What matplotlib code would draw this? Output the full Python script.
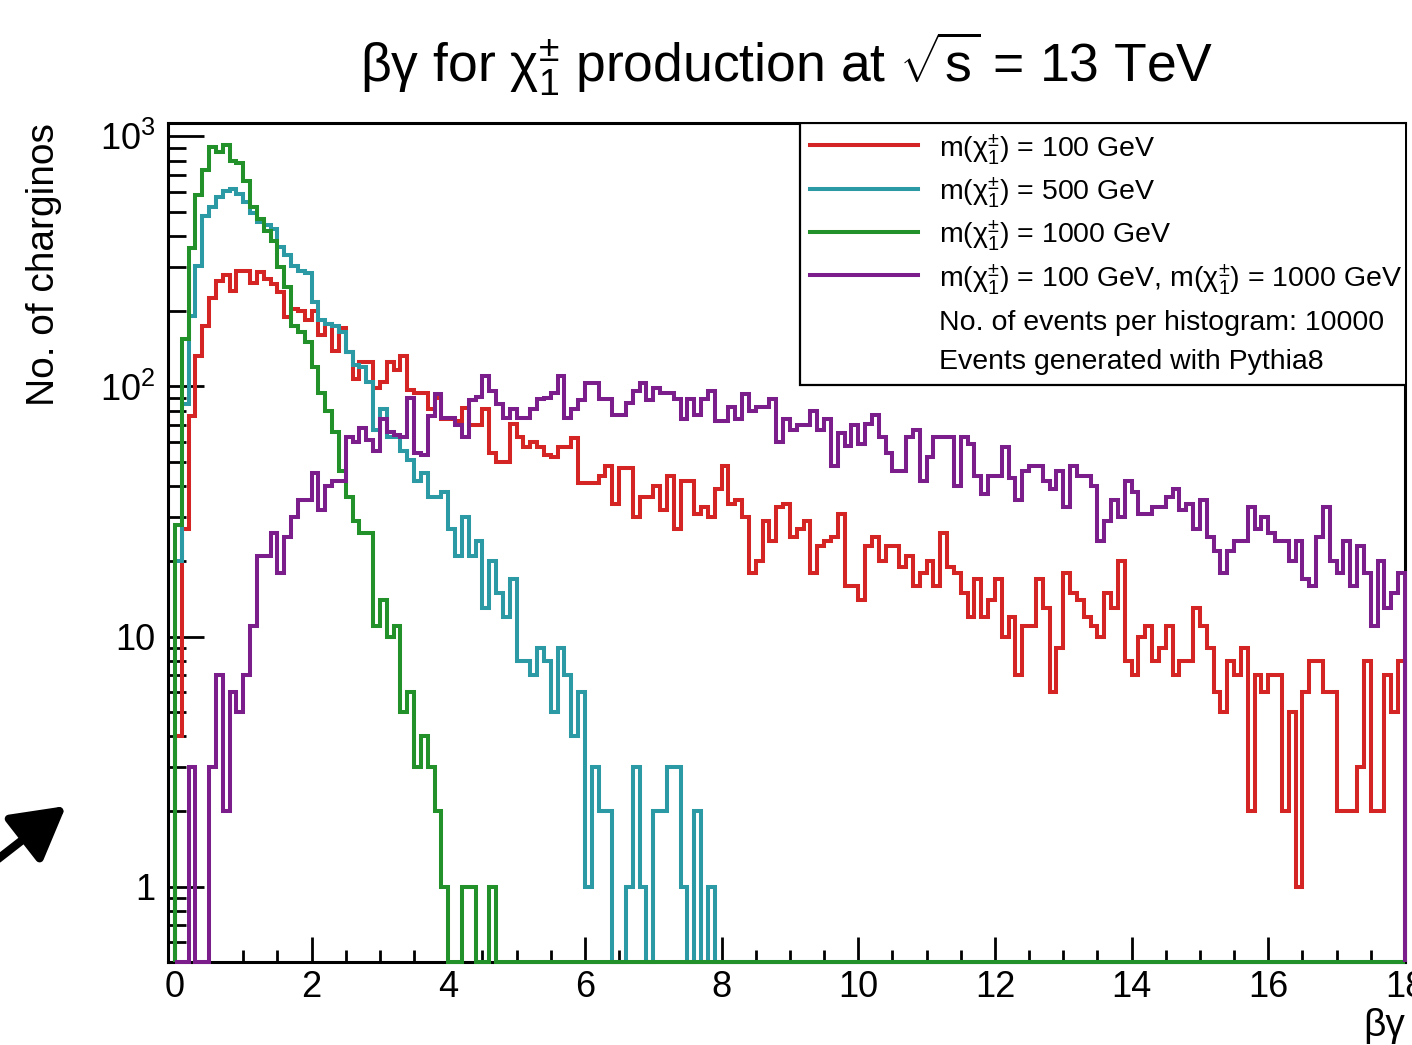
import numpy as np
import matplotlib.pyplot as plt
from matplotlib.lines import Line2D
from matplotlib.ticker import FixedLocator, FixedFormatter, MultipleLocator, LogLocator, NullFormatter

plt.rcParams['font.family'] = ['Liberation Sans', 'DejaVu Sans']
plt.rcParams['mathtext.fontset'] = 'custom'
plt.rcParams['mathtext.rm'] = 'Liberation Sans'
plt.rcParams['mathtext.it'] = 'Liberation Sans:italic'
plt.rcParams['mathtext.bf'] = 'Liberation Sans:bold'

# betagamma histograms, 0.1 wide bins from 0 to 18 (counts per bin)
m100 = [4, 27, 76, 132, 175, 226, 265, 280, 240, 290,
        290, 260, 287, 270, 257, 238, 190, 204, 200, 185,
        200, 160, 177, 138, 171, 137, 107, 125, 125, 99,
        104, 125, 116, 132, 97, 94, 94, 81, 90, 74,
        74, 73, 82, 70, 70, 81, 54, 50, 50, 71,
        63, 57, 60, 57, 53, 52, 57, 57, 62, 41,
        41, 41, 44, 48, 34, 47, 47, 30, 36, 36,
        40, 32, 44, 27, 42, 42, 31, 33, 30, 39,
        48, 34, 35, 30, 18, 20, 29, 24, 33, 34,
        25, 27, 29, 18, 23, 24, 25, 31, 16, 16,
        14, 23, 25, 20, 23, 23, 19, 21, 16, 18,
        20, 16, 26, 19, 18, 15, 12, 17, 12, 14,
        17, 10, 12, 7, 11, 11, 17, 13, 6, 9,
        18, 15, 14, 12, 11, 10, 15, 13, 20, 8,
        7, 10, 11, 8, 9, 11, 7, 8, 8, 13,
        11, 9, 6, 5, 8, 7, 9, 2, 7, 6,
        7, 7, 2, 5, 1, 6, 8, 8, 6, 6,
        2, 2, 2, 3, 8, 2, 2, 7, 5, 8]

m500 = [20, 85, 192, 302, 480, 520, 570, 605, 615, 590,
        545, 495, 455, 440, 427, 360, 334, 302, 290, 285,
        218, 185, 177, 175, 165, 137, 122, 120, 104, 67,
        81, 63, 63, 55, 51, 42, 45, 36, 36, 38,
        27, 21, 30, 21, 24, 13, 20, 15, 12, 17,
        8, 8, 7, 9, 8, 5, 9, 7, 4, 6,
        1, 3, 2, 2, 0, 0, 1, 3, 1, 0,
        2, 2, 3, 3, 1, 0, 2, 0, 1, 0] + [0] * 100

m1000 = [28, 155, 356, 580, 730, 905, 862, 920, 800, 780,
         660, 520, 465, 420, 380, 300, 250, 175, 165, 150,
         120, 94, 80, 66, 46, 36, 29, 26, 26, 11,
         14, 10, 11, 5, 6, 3, 4, 3, 2, 1,
         0, 0, 1, 1, 0, 0, 1, 0, 0, 0] + [0] * 130

m_mix = [0, 0, 3, 0, 0, 3, 7, 2, 6, 5,
         7, 11, 21, 21, 26, 18, 25, 30, 35, 35,
         45, 32, 40, 42, 42, 63, 60, 68, 61, 55,
         74, 66, 64, 63, 90, 54, 53, 76, 93, 75,
         75, 70, 63, 88, 91, 110, 96, 85, 75, 81,
         75, 75, 81, 89, 90, 94, 110, 75, 81, 88,
         103, 103, 89, 89, 77, 77, 86, 96, 103, 88,
         99, 94, 94, 89, 74, 89, 77, 89, 96, 73,
         73, 83, 74, 93, 80, 83, 83, 89, 60, 74,
         67, 70, 70, 80, 67, 74, 48, 65, 58, 70,
         59, 71, 77, 63, 54, 46, 46, 63, 67, 42,
         52, 63, 63, 63, 40, 63, 59, 44, 37, 44,
         44, 57, 43, 35, 46, 48, 48, 42, 39, 46,
         33, 48, 44, 44, 40, 24, 29, 35, 30, 42,
         38, 31, 31, 33, 33, 36, 39, 32, 34, 27,
         35, 25, 22, 18, 22, 24, 24, 33, 27, 30,
         26, 24, 24, 20, 24, 17, 16, 25, 33, 20,
         18, 24, 16, 23, 18, 11, 20, 13, 15, 18]

labels = [r'm($\mathrm{χ}^{\pm}_{1}$) = 100 GeV',
          r'm($\mathrm{χ}^{\pm}_{1}$) = 500 GeV',
          r'm($\mathrm{χ}^{\pm}_{1}$) = 1000 GeV',
          r'm($\mathrm{χ}^{\pm}_{1}$) = 100 GeV, m($\mathrm{χ}^{\pm}_{1}$) = 1000 GeV']
colors = ['#d42424', '#2b9aa4', '#22912a', '#7c1d8c']
notes = ['No. of events per histogram: 10000', 'Events generated with Pythia8']

edges = np.round(np.linspace(0, 18, 181), 2)
ymin, ymax = 0.5, 1130

fig = plt.figure(figsize=(14.12, 10.45), dpi=100)
ax = fig.add_axes([168 / 1412, 83 / 1045, 1237 / 1412, 839 / 1045])

for vals, c, lab in zip([m100, m500, m1000, m_mix], colors, labels):
    v = np.array(vals, dtype=float)
    v = np.where(v > 0, v, ymin)  # empty bins drawn on the axis floor like ROOT
    ax.stairs(v, edges, baseline=ymin, color=c, lw=2.9, label=lab,
              zorder=3, clip_on=False)

ax.set_yscale('log')
ax.set_xlim(-0.1, 18)
ax.set_ylim(ymin, ymax)

ax.xaxis.set_major_locator(MultipleLocator(2))
ax.xaxis.set_minor_locator(MultipleLocator(0.5))
ax.yaxis.set_major_locator(FixedLocator([1, 10, 100, 1000]))
ax.yaxis.set_major_formatter(FixedFormatter(['1', '10', r'$10^{2}$', r'$10^{3}$']))
ax.yaxis.set_minor_locator(LogLocator(base=10, subs=np.arange(2, 10)))
ax.yaxis.set_minor_formatter(NullFormatter())

ax.tick_params(axis='x', which='major', direction='in', length=18, width=2, labelsize=26, pad=6)
ax.tick_params(axis='x', which='minor', direction='in', length=9, width=2)
ax.tick_params(axis='y', which='major', direction='in', length=26, width=2, labelsize=26, pad=9)
ax.tick_params(axis='y', which='minor', direction='in', length=13, width=2)
for s in ax.spines.values():
    s.set_linewidth(2.2)

ax.set_ylabel('No. of charginos', fontsize=28, loc='top')
ax.yaxis.set_label_coords(-0.086, 1.0)
ax.set_xlabel('βγ', fontsize=28, loc='right')
ax.xaxis.set_label_coords(1.0, -0.055)

fig.text(0.557, 1 - 82 / 1045, r'βγ for $\mathrm{χ}^{\pm}_{1}$ production at $\sqrt{\mathrm{s}}$ = 13 TeV',
         ha='center', va='baseline', fontsize=38.5)

handles = [Line2D([], [], color=c, lw=2.9) for c in colors]
handles += [Line2D([], [], color='none') for _ in notes]
leg = ax.legend(handles, labels + notes, loc='upper right', bbox_to_anchor=(1.006, 1),
                borderaxespad=0, fontsize=20.5, fancybox=False, framealpha=1,
                edgecolor='black', handlelength=3.8, handleheight=1.2,
                handletextpad=0.75, labelspacing=0.32, borderpad=0.35)
frame = leg.get_frame()
frame.set_linewidth(1.6)
frame.set_clip_box(ax.bbox)  # right side of the box sits on the axis frame
frame.set_clip_on(True)
leg.set_zorder(5)

ax.annotate('', xy=(66, 1045 - 806), xytext=(-2, 1045 - 859),
            xycoords='figure pixels', textcoords='figure pixels',
            arrowprops=dict(arrowstyle='-|>,head_length=0.8,head_width=0.45',
                            lw=6, color='black', mutation_scale=40,
                            shrinkA=0, shrinkB=0),
            annotation_clip=False)

fig.savefig('out.png', dpi=100)
